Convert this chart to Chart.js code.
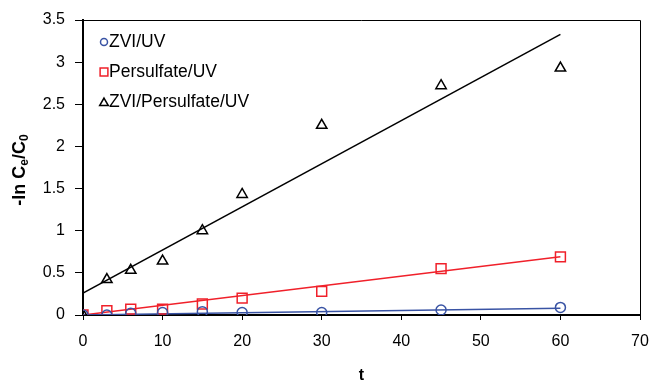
<!DOCTYPE html>
<html lang="en">
<head>
    <meta charset="UTF-8">
    <title>-ln Ce/C0 vs t</title>
    <script src="https://cdn.jsdelivr.net/npm/chart.js"></script>
    <style>
        html, body { margin: 0; padding: 0; background: #fff; }
        #wrap { width: 651px; height: 385px; }
    </style>
</head>
<body>
    <div id="wrap"><canvas id="kineticsChart" width="651" height="385"></canvas></div>
    <script>
        // sampling times
        const times = [0, 3, 6, 10, 15, 20, 30, 45, 60];

        // measured -ln(Ce/C0)
        const zviUv = [0, 0.0, 0.02, 0.03, 0.04, 0.03, 0.03, 0.06, 0.09];
        const persulfateUv = [0, 0.05, 0.07, 0.07, 0.13, 0.20, 0.28, 0.55, 0.69];
        const zviPersulfateUv = [0, 0.42, 0.53, 0.64, 1.0, 1.43, 2.25, 2.72, 2.93];

        // linear fit end points (t = 0 and t = 60)
        const fitT = [0, 60];
        const zviUvFit = [0.0, 0.08];
        const persulfateUvFit = [0.0, 0.69];
        const zviPersulfateUvFit = [0.26, 3.33];

        const xTicks = [0, 10, 20, 30, 40, 50, 60, 70];
        const yTicks = [0, 0.5, 1, 1.5, 2, 2.5, 3, 3.5];

        const seriesNames = ['ZVI/UV', 'Persulfate/UV', 'ZVI/Persulfate/UV'];

        const blue = '#3953a4';
        const red = '#f0202a';
        const black = '#000000';
        const font = "'Liberation Sans', Arial, sans-serif";

        const pts = (xs, ys) => xs.map((x, i) => ({ x: x, y: ys[i] }));

        function markerSet(label, ys, color, style, radius) {
            return {
                label: label,
                data: pts(times, ys),
                showLine: false,
                pointStyle: style,
                pointRadius: radius,
                pointHoverRadius: radius,
                pointBorderWidth: 1.5,
                pointBorderColor: color,
                pointBackgroundColor: 'rgba(0,0,0,0)',
                borderColor: color,
                order: 1
            };
        }

        function fitSet(ys, color) {
            return {
                label: 'fit',
                data: pts(fitT, ys),
                showLine: true,
                pointRadius: 0,
                borderColor: color,
                borderWidth: 1.5,
                fill: false,
                order: 2
            };
        }

        // box outline on top and right, the rotated y title with subscripts, and the legend
        const decorations = {
            id: 'decorations',
            afterDraw(chart) {
                const ctx = chart.ctx;
                const a = chart.chartArea;
                ctx.save();
                ctx.strokeStyle = '#000';
                ctx.lineWidth = 1;
                ctx.beginPath();
                ctx.moveTo(a.left, a.top + 0.5);
                ctx.lineTo(a.right + 0.5, a.top + 0.5);
                ctx.lineTo(a.right + 0.5, a.bottom);
                ctx.stroke();

                // y title: -ln Ce/C0
                const parts = [
                    { t: '-ln C', sub: false },
                    { t: 'e', sub: true },
                    { t: '/C', sub: false },
                    { t: '0', sub: true }
                ];
                const big = 'bold 18px ' + font;
                const small = 'bold 12px ' + font;
                let total = 0;
                parts.forEach(p => {
                    ctx.font = p.sub ? small : big;
                    p.w = ctx.measureText(p.t).width;
                    total += p.w;
                });
                ctx.translate(19, 170);
                ctx.rotate(-Math.PI / 2);
                ctx.fillStyle = '#000';
                ctx.textBaseline = 'alphabetic';
                let x = -total / 2;
                parts.forEach(p => {
                    ctx.font = p.sub ? small : big;
                    ctx.fillText(p.t, x, p.sub ? 9 : 6);
                    x += p.w;
                });
                ctx.restore();

                // legend in the upper left of the plot
                const items = [
                    { style: 'circle', color: blue, r: 3.5 },
                    { style: 'rect', color: red, r: 5.5 },
                    { style: 'triangle', color: black, r: 5 }
                ];
                const rows = [42, 72, 102];
                ctx.save();
                ctx.font = '17.5px ' + font;
                ctx.textBaseline = 'middle';
                items.forEach((it, i) => {
                    ctx.strokeStyle = it.color;
                    ctx.fillStyle = 'rgba(0,0,0,0)';
                    ctx.lineWidth = 1.5;
                    Chart.helpers.drawPoint(ctx, { pointStyle: it.style, radius: it.r, rotation: 0, borderWidth: 1.5 }, 104, rows[i] + (it.style === 'triangle' ? 1 : 0));
                    ctx.fillStyle = '#000';
                    ctx.fillText(seriesNames[i], 109, rows[i]);
                });
                ctx.restore();
            }
        };

        const ctx = document.getElementById('kineticsChart').getContext('2d');
        new Chart(ctx, {
            type: 'scatter',
            data: {
                datasets: [
                    markerSet(seriesNames[0], zviUv, blue, 'circle', 5),
                    markerSet(seriesNames[1], persulfateUv, red, 'rect', 7),
                    markerSet(seriesNames[2], zviPersulfateUv, black, 'triangle', 6),
                    fitSet(zviUvFit, blue),
                    fitSet(persulfateUvFit, red),
                    fitSet(zviPersulfateUvFit, black)
                ]
            },
            options: {
                responsive: false,
                animation: false,
                layout: { padding: { left: 0, right: 11, top: 20, bottom: 0 } },
                scales: {
                    x: {
                        type: 'linear',
                        min: 0,
                        max: 70,
                        afterFit(scale) {
                            scale.height = 70;
                            scale.paddingLeft = 0;
                            scale.paddingRight = 0;
                        },
                        afterBuildTicks(scale) { scale.ticks = xTicks.map(v => ({ value: v })); },
                        ticks: {
                            color: '#000',
                            padding: 12,
                            maxRotation: 0,
                            font: { family: font, size: 16 }
                        },
                        grid: {
                            drawOnChartArea: false,
                            drawTicks: true,
                            tickLength: 5,
                            color: '#000'
                        },
                        border: { color: '#000', width: 2 },
                        title: {
                            display: true,
                            text: 't',
                            color: '#000',
                            padding: { top: 0, bottom: 0 },
                            font: { family: font, size: 16, weight: 'bold' }
                        }
                    },
                    y: {
                        min: 0,
                        max: 3.5,
                        afterFit(scale) {
                            scale.width = 83;
                            scale.paddingTop = 0;
                            scale.paddingBottom = 0;
                        },
                        afterBuildTicks(scale) { scale.ticks = yTicks.map(v => ({ value: v })); },
                        ticks: {
                            color: '#000',
                            padding: 10,
                            font: { family: font, size: 16 },
                            callback: v => String(v)
                        },
                        grid: {
                            drawOnChartArea: false,
                            drawTicks: true,
                            tickLength: 8,
                            color: '#000'
                        },
                        border: { color: '#000', width: 2 }
                    }
                },
                plugins: {
                    legend: { display: false },
                    tooltip: { enabled: false }
                }
            },
            plugins: [decorations]
        });
    </script>
</body>
</html>
